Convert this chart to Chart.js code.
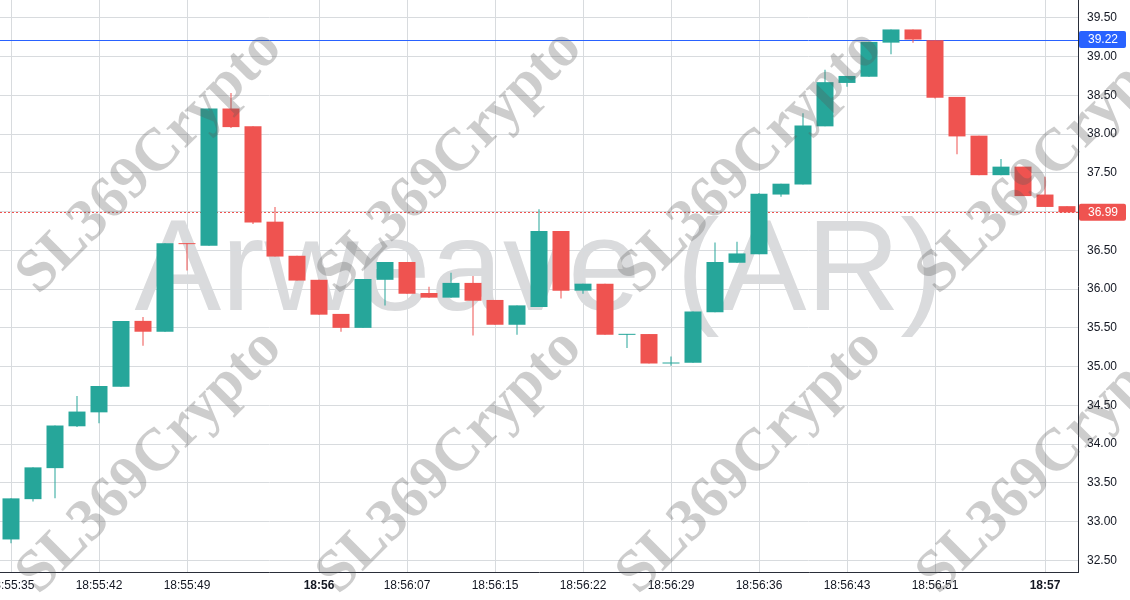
<!DOCTYPE html>
<html>
<head>
<meta charset="utf-8">
<title>Arweave (AR)</title>
<script src="https://cdn.jsdelivr.net/npm/chart.js"></script>
<style>
  html, body { margin: 0; padding: 0; background: #ffffff; }
  canvas { display: block; }
</style>
</head>
<body>
<canvas id="candles" width="1130" height="600"></canvas>
<script>
'use strict'

// one category per candle, only some of them carry a time label
const tickLabels = [
    '18:55:35', '', '', '', '18:55:42', '', '', '', '18:55:49', '', '', '', '', '',
    '18:56', '', '', '', '18:56:07', '', '', '', '18:56:15', '', '', '', '18:56:22', '', '', '',
    '18:56:29', '', '', '', '18:56:36', '', '', '', '18:56:43', '', '', '', '18:56:51', '', '', '', '',
    '18:57', ''
];
const boldLabels = ['18:56', '18:57'];

const opens  = [32.77, 33.29, 33.69, 34.23, 34.41, 34.74, 35.59, 35.45, 36.59, 36.56,
                38.33, 38.10, 36.87, 36.43, 36.12, 35.68, 35.50, 36.12, 36.35, 35.95,
                35.89, 36.08, 35.86, 35.54, 35.77, 36.75, 35.98, 36.07, 35.41, 35.42,
                35.04, 35.05, 35.70, 36.34, 36.45, 37.22, 37.35, 38.10, 38.66, 38.74,
                39.18, 39.35, 39.21, 38.48, 37.98, 37.47, 37.58, 37.22, 37.07];
const highs  = [33.30, 33.70, 34.24, 34.62, 34.75, 35.59, 35.64, 36.59, 36.59, 38.33,
                38.53, 38.10, 37.06, 36.43, 36.12, 35.68, 36.13, 36.35, 36.35, 36.03,
                36.21, 36.17, 35.86, 35.79, 37.03, 36.75, 36.07, 36.07, 35.42, 35.42,
                35.13, 35.71, 36.60, 36.61, 37.24, 37.36, 38.27, 38.83, 38.75, 39.19,
                39.35, 39.35, 39.21, 38.48, 37.98, 37.68, 37.58, 37.45, 37.07];
const lows   = [32.72, 33.26, 33.30, 34.22, 34.27, 34.74, 35.27, 35.45, 36.24, 36.56,
                38.08, 36.84, 36.42, 36.11, 35.67, 35.45, 35.50, 35.79, 35.94, 35.89,
                35.89, 35.40, 35.54, 35.41, 35.77, 35.88, 35.94, 35.41, 35.24, 35.04,
                35.01, 35.05, 35.70, 36.34, 36.45, 37.19, 37.35, 38.10, 38.61, 38.74,
                39.03, 39.18, 38.46, 37.74, 37.47, 37.47, 37.20, 37.06, 36.99];
const closes = [33.30, 33.70, 34.24, 34.42, 34.75, 35.59, 35.45, 36.59, 36.58, 38.33,
                38.09, 36.86, 36.42, 36.11, 35.67, 35.50, 36.13, 36.35, 35.94, 35.89,
                36.08, 35.85, 35.54, 35.79, 36.75, 35.98, 36.07, 35.41, 35.42, 35.04,
                35.05, 35.71, 36.35, 36.46, 37.23, 37.36, 38.11, 38.67, 38.75, 39.19,
                39.35, 39.22, 38.47, 37.97, 37.47, 37.58, 37.20, 37.06, 36.99];

const lastPrice = 36.99;
const markPrice = 39.22;
const yMin = 32.35;
const yMax = 39.73;
const titleText = 'Arweave (AR)';
const brandText = 'SL369Crypto';

const upColor = '#26a69a';
const downColor = '#ef5350';
const gridColor = '#d8dbde';
const axisColor = '#2a2e39';
const textColor = '#131722';
const fontFamily = '"Liberation Sans", Arial, sans-serif';

const bodies = opens.map((o, i) => [o, closes[i]]);
const wicks = lows.map((l, i) => [l, highs[i]]);
const candleColors = opens.map((o, i) => closes[i] >= o ? upColor : downColor);

function priceTag(ctx, x, y, text, color) {
    ctx.fillStyle = color;
    ctx.beginPath();
    ctx.roundRect(x, y - 8.5, 47, 17, 2);
    ctx.fill();
    ctx.fillStyle = '#ffffff';
    ctx.font = '12px ' + fontFamily;
    ctx.textAlign = 'left';
    ctx.textBaseline = 'middle';
    ctx.fillText(text, x + 9, y + 0.5);
}

const overlayPlugin = {
    id: 'overlay',
    beforeDraw(chart) {
        const { ctx, chartArea } = chart;
        ctx.save();
        ctx.fillStyle = '#dadbdd';
        ctx.font = '130px ' + fontFamily;
        ctx.textAlign = 'center';
        ctx.textBaseline = 'alphabetic';
        ctx.fillText(titleText, (chartArea.left + chartArea.right) / 2, 310);
        ctx.restore();
    },
    beforeDatasetsDraw(chart) {
        const { ctx, chartArea } = chart;
        const y = chart.scales.y;
        ctx.save();
        // high marker line
        const ym = Math.round(y.getPixelForValue(markPrice)) + 0.5;
        ctx.strokeStyle = '#2962ff';
        ctx.lineWidth = 1;
        ctx.beginPath();
        ctx.moveTo(chartArea.left, ym);
        ctx.lineTo(chartArea.right, ym);
        ctx.stroke();
        // last price line
        const yl = Math.round(y.getPixelForValue(lastPrice)) + 0.5;
        ctx.strokeStyle = downColor;
        ctx.setLineDash([2, 2]);
        ctx.beginPath();
        ctx.moveTo(chartArea.left, yl);
        ctx.lineTo(chartArea.right, yl);
        ctx.stroke();
        ctx.restore();
    },
    afterDraw(chart) {
        const { ctx, chartArea } = chart;
        const y = chart.scales.y;
        ctx.save();
        priceTag(ctx, chartArea.right + 1, y.getPixelForValue(markPrice), markPrice.toFixed(2), '#2962ff');
        priceTag(ctx, chartArea.right + 1, y.getPixelForValue(lastPrice), lastPrice.toFixed(2), downColor);

        // diagonal brand watermark, tiled over the whole canvas
        ctx.fillStyle = 'rgba(90, 90, 90, 0.3)';
        ctx.font = 'bold 60px "Liberation Serif", "DejaVu Serif", serif';
        ctx.textAlign = 'center';
        ctx.textBaseline = 'middle';
        for (let col = 0; col < 4; col++) {
            for (let row = 0; row < 2; row++) {
                ctx.save();
                ctx.translate(150 + col * 300, 162 + row * 300);
                ctx.rotate(-Math.PI / 4);
                ctx.fillText(brandText, 0, 0);
                ctx.restore();
            }
        }
        ctx.restore();
    }
};

const ctx = document.getElementById('candles');
new Chart(ctx, {
    type: 'bar',
    data: {
        labels: tickLabels,
        datasets: [
            {
                label: 'body',
                data: bodies,
                backgroundColor: candleColors,
                barThickness: 17,
                minBarLength: 1,
                inflateAmount: 0,
                grouped: false
            },
            {
                label: 'wick',
                data: wicks,
                backgroundColor: candleColors,
                barThickness: 1,
                inflateAmount: 0,
                grouped: false
            }
        ]
    },
    options: {
        responsive: false,
        animation: false,
        layout: { padding: 0 },
        plugins: {
            legend: { display: false },
            tooltip: { enabled: false }
        },
        scales: {
            x: {
                offset: true,
                grid: {
                    offset: false,
                    drawTicks: false,
                    color: c => tickLabels[c.index] ? gridColor : 'rgba(0,0,0,0)'
                },
                border: { color: axisColor },
                ticks: {
                    autoSkip: false,
                    maxRotation: 0,
                    minRotation: 0,
                    padding: 6,
                    color: textColor,
                    font: c => ({
                        family: fontFamily,
                        size: 12,
                        weight: boldLabels.includes(tickLabels[c.index]) ? 'bold' : 'normal'
                    })
                },
                afterFit: s => { s.height = 28; s.paddingLeft = 0; s.paddingRight = 0; }
            },
            y: {
                position: 'right',
                min: yMin,
                max: yMax,
                grid: { color: gridColor, drawTicks: false },
                border: { color: axisColor },
                ticks: {
                    stepSize: 0.5,
                    includeBounds: false,
                    padding: 9,
                    color: textColor,
                    font: { family: fontFamily, size: 12 },
                    callback: v => v.toFixed(2)
                },
                afterFit: s => { s.width = 52; s.paddingTop = 0; s.paddingBottom = 0; }
            }
        }
    },
    plugins: [overlayPlugin]
});
</script>
</body>
</html>
